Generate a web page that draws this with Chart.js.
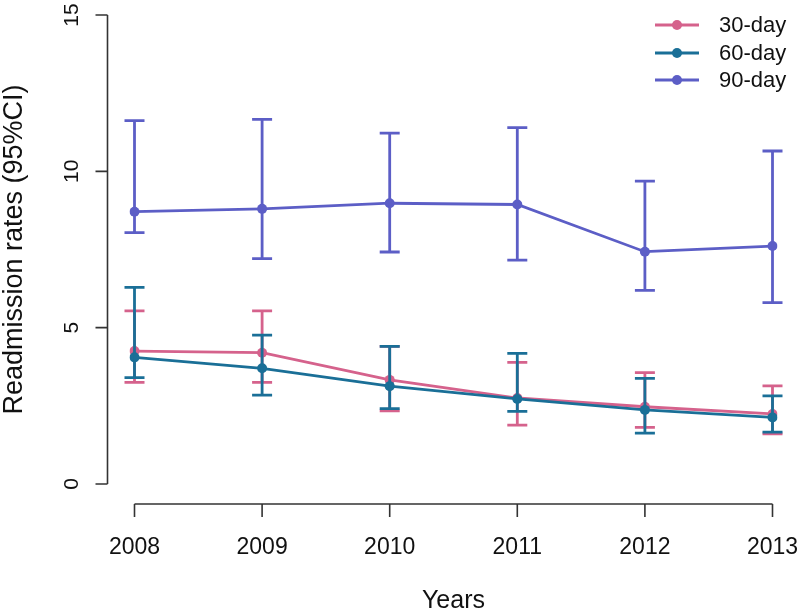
<!DOCTYPE html>
<html>
<head>
<meta charset="utf-8">
<title>Readmission rates</title>
<script src="https://cdn.jsdelivr.net/npm/chart.js@4.4.1/dist/chart.umd.min.js"></script>
<style>
  html, body { margin: 0; padding: 0; background: #fff; }
  #wrap { width: 800px; height: 614px; }
</style>
</head>
<body>
<div id="wrap"><canvas id="readmitChart" width="800" height="614"></canvas></div>
<script>
const years = ["2008", "2009", "2010", "2011", "2012", "2013"];
const seriesNames = ["30-day", "60-day", "90-day"];

const rate30 = [4.25, 4.2, 3.33, 2.75, 2.47, 2.24];
const low30 = [3.25, 3.25, 2.34, 1.88, 1.81, 1.6];
const high30 = [5.54, 5.54, 4.4, 3.89, 3.56, 3.14];

const rate60 = [4.05, 3.7, 3.13, 2.72, 2.37, 2.13];
const low60 = [3.4, 2.84, 2.41, 2.32, 1.63, 1.66];
const high60 = [6.29, 4.76, 4.4, 4.18, 3.38, 2.82];

const rate90 = [8.71, 8.8, 8.98, 8.94, 7.43, 7.61];
const low90 = [8.04, 7.21, 7.42, 7.16, 6.19, 5.8];
const high90 = [11.62, 11.66, 11.22, 11.4, 9.69, 10.65];

const yTicks = [0, 5, 10, 15];

const colors = ["#d5628c", "#1a6f97", "#5c5ec6"];
const FONT = "'Liberation Sans', Arial, Helvetica, sans-serif";
const axisColor = "#333333";

const lows = [low30, low60, low90];
const highs = [high30, high60, high90];

// error bars, drawn right after each dataset so layering follows the lines
const errorBars = {
  id: "errorBars",
  afterDatasetDraw(chart, args) {
    const i = args.index;
    const ctx = chart.ctx;
    const xs = chart.scales.x;
    const ys = chart.scales.y;
    ctx.save();
    ctx.strokeStyle = colors[i];
    ctx.lineWidth = 2.8;
    ctx.lineCap = "butt";
    years.forEach((yr, j) => {
      const px = xs.getPixelForValue(j);
      const top = ys.getPixelForValue(highs[i][j]);
      const bot = ys.getPixelForValue(lows[i][j]);
      ctx.beginPath();
      ctx.moveTo(px, top);
      ctx.lineTo(px, bot);
      ctx.moveTo(px - 10, top);
      ctx.lineTo(px + 10, top);
      ctx.moveTo(px - 10, bot);
      ctx.lineTo(px + 10, bot);
      ctx.stroke();
    });
    ctx.restore();
  },
};

// R style detached axes plus the legend
const baseAxes = {
  id: "baseAxes",
  afterDraw(chart) {
    const ctx = chart.ctx;
    const xs = chart.scales.x;
    const ys = chart.scales.y;
    const area = chart.chartArea;
    ctx.save();
    ctx.strokeStyle = axisColor;
    ctx.lineWidth = 1.6;

    const ax = area.left - 27;
    ctx.beginPath();
    ctx.moveTo(ax, ys.getPixelForValue(yTicks[0]));
    ctx.lineTo(ax, ys.getPixelForValue(yTicks[yTicks.length - 1]));
    yTicks.forEach((t) => {
      const py = ys.getPixelForValue(t);
      ctx.moveTo(ax, py);
      ctx.lineTo(ax - 12, py);
    });
    ctx.stroke();

    const ay = area.bottom + 20;
    ctx.beginPath();
    ctx.moveTo(xs.getPixelForValue(0), ay);
    ctx.lineTo(xs.getPixelForValue(years.length - 1), ay);
    years.forEach((yr, j) => {
      const px = xs.getPixelForValue(j);
      ctx.moveTo(px, ay);
      ctx.lineTo(px, ay + 13);
    });
    ctx.stroke();

    // legend
    const rowY = [25, 53, 80];
    ctx.font = "22px " + FONT;
    ctx.textBaseline = "middle";
    ctx.textAlign = "left";
    seriesNames.forEach((name, i) => {
      const y = rowY[i];
      ctx.strokeStyle = colors[i];
      ctx.lineWidth = 2.8;
      ctx.beginPath();
      ctx.moveTo(655, y);
      ctx.lineTo(699, y);
      ctx.stroke();
      ctx.fillStyle = colors[i];
      ctx.beginPath();
      ctx.arc(677, y, 5, 0, Math.PI * 2);
      ctx.fill();
      ctx.fillStyle = "#111";
      ctx.fillText(name, 719, y + 1);
    });
    ctx.restore();
  },
};

function noPadding(scale) {
  scale.paddingLeft = 0;
  scale.paddingRight = 0;
  scale.paddingTop = 0;
  scale.paddingBottom = 0;
}

const ctx = document.getElementById("readmitChart").getContext("2d");

function makeSet(label, data, i, order) {
  return {
    label: label,
    data: data,
    borderColor: colors[i],
    backgroundColor: colors[i],
    borderWidth: 2.8,
    pointRadius: 5,
    pointHoverRadius: 5,
    pointBorderWidth: 0,
    tension: 0,
    fill: false,
    order: order,
  };
}

new Chart(ctx, {
  type: "line",
  data: {
    labels: years,
    datasets: [
      makeSet(seriesNames[0], rate30, 0, 1),
      makeSet(seriesNames[1], rate60, 1, 0),
      makeSet(seriesNames[2], rate90, 2, 2),
    ],
  },
  options: {
    responsive: false,
    animation: false,
    layout: { padding: { left: 0, right: 27.5, top: 15, bottom: 0 } },
    plugins: {
      legend: { display: false },
      tooltip: { enabled: false },
    },
    scales: {
      x: {
        type: "category",
        offset: false,
        grid: { display: false, drawTicks: false },
        border: { display: false },
        ticks: {
          color: "#111",
          font: { family: FONT, size: 23 },
          padding: 50,
          maxRotation: 0,
          autoSkip: false,
        },
        title: {
          display: true,
          text: "Years",
          color: "#111",
          font: { family: FONT, size: 25, lineHeight: 1 },
          padding: { top: 0, bottom: 0 },
        },
        afterFit(scale) {
          scale.height = 130;
          noPadding(scale);
        },
      },
      y: {
        min: 0,
        max: 15,
        grid: { display: false, drawTicks: false },
        border: { display: false },
        ticks: {
          stepSize: 5,
          color: "#111",
          font: { family: FONT, size: 21 },
          padding: 51,
          minRotation: 90,
          maxRotation: 90,
          crossAlign: "center",
        },
        title: {
          display: true,
          text: "Readmission rates (95%CI)",
          color: "#111",
          font: { family: FONT, size: 27, lineHeight: 1 },
          padding: { top: 1, bottom: 0 },
        },
        afterFit(scale) {
          scale.width = 134.5;
          noPadding(scale);
        },
      },
    },
  },
  plugins: [errorBars, baseAxes],
});
</script>
</body>
</html>
